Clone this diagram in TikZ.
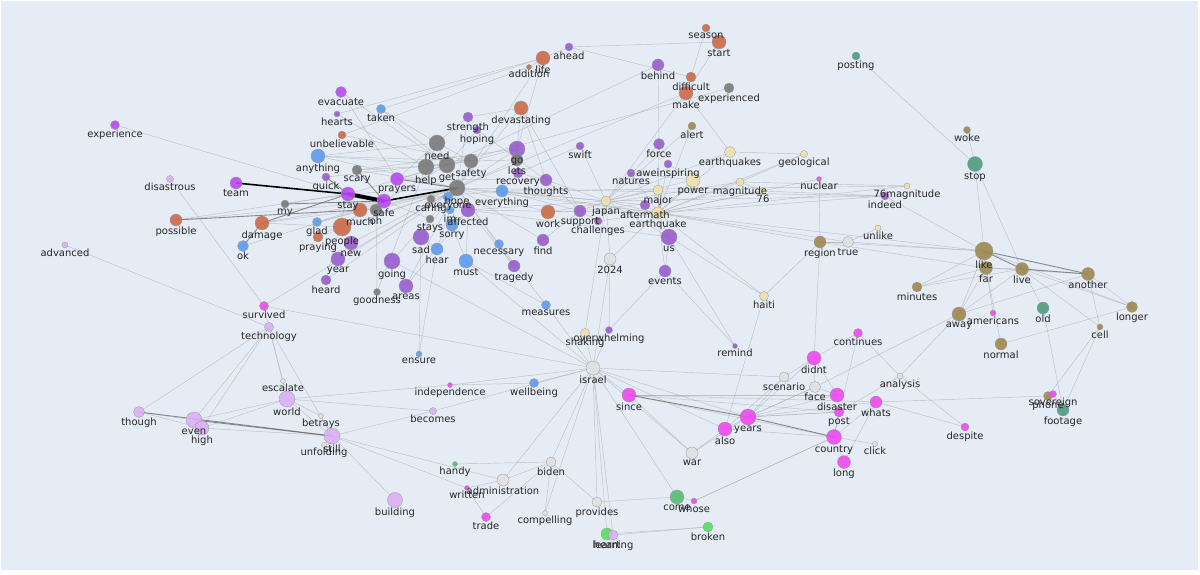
\documentclass[tikz,border=0pt]{standalone}
\usepackage{fontspec}
\setmainfont{DejaVu Sans}
\usetikzlibrary{backgrounds}
\definecolor{plotbg}{RGB}{229,236,246}
\definecolor{corange}{RGB}{205,106,72}
\definecolor{cgray}{RGB}{122,122,122}
\definecolor{cblue}{RGB}{92,156,240}
\definecolor{cpurple}{RGB}{152,92,206}
\definecolor{cviolet}{RGB}{186,72,245}
\definecolor{colive}{RGB}{160,135,76}
\definecolor{cteal}{RGB}{78,156,126}
\definecolor{cmagenta}{RGB}{240,72,240}
\definecolor{clilac}{RGB}{220,176,245}
\definecolor{clight}{RGB}{226,226,226}
\definecolor{cpale}{RGB}{240,226,172}
\definecolor{cgreen}{RGB}{84,222,96}
\definecolor{cmgreen}{RGB}{88,190,112}

% words: name/x/y/radius/colour (pixel grid, y down)
\def\wordlist{
experience/115/125/4.5/cviolet, disastrous/170/179/3.5/clilac, team/236/183/6/cviolet,
possible/176/220/6/corange, advanced/65/245/3/clilac, damage/262/223/7/corange,
ok/243/246/5.5/cblue, my/285/204/4/cgray, evacuate/341/92/5.5/cviolet,
hearts/337/114/3/cpurple, taken/381/109/4.5/cblue, unbelievable/342/135/4/corange,
anything/318/156/7/cblue, quick/326/177/4/cpurple, scary/357/170/5/cgray,
prayers/397/179/6.5/cviolet, stay/348/194/7/cviolet, safe/384/201/7/cviolet,
much/360/210/7/corange, oh/376/210/6/cgray, glad/317/222/4.5/cblue,
people/342/227/9/corange, praying/318/237/5/corange, new/351/243/7/cpurple,
year/338/259/7/cpurple, heard/326/280/5/cpurple, going/392/261/8/cpurple,
goodness/377/292/3.5/cgray, areas/406/286/7/cpurple, stays/430/219/4/cgray,
sad/421/237/8/cpurple, hear/437/249/6/cblue, sorry/452/225/6/cblue,
im/450/210/4/cblue, caring/431/199/4/cgray, everyone/448/197/5/cblue,
hope/457/188/8/cgray, need/437/143/8/cgray, help/426/167/8/cgray,
get/447/165/8/cgray, safety/471/161/7/cgray, strength/468/117/5/cpurple,
hoping/477/130/4/cpurple, devastating/521/108/7/corange, go/517/149/8/cpurple,
lets/517/160/6/cgray, recovery/518/173/5/cpurple, thoughts/546/180/6/cpurple,
swift/580/146/4/cpurple, everything/502/191/6/cblue, affected/468/210/7/cpurple,
work/548/212/7/corange, support/580/211/6/cpurple, challenges/598/221/4/cpurple,
find/543/240/6/cpurple, necessary/499/244/4.5/cblue, must/466/261/7/cblue,
tragedy/514/266/6/cpurple, measures/546/305/4.5/cblue, ensure/419/354/3/cblue,
ahead/569/47/4/cpurple, life/543/58/7/corange, addition/529/67/2.5/corange,
season/706/28/4/corange, start/719/42/7/corange, behind/658/65/6/cpurple,
difficult/691/77/5/corange, make/686/93/7/corange, experienced/729/88/5/cgray,
posting/856/56/4/cteal, alert/692/126/4/colive, force/659/144/5.5/cpurple,
earthquakes/730/152/5.5/cpale, geological/804/154/3.5/cpale, nuclear/819/179/2.5/cmagenta,
aweinspiring/668/164/4/cpurple, natures/631/173/4/cpurple, power/693/180/7/cpale,
magnitude/740/182/4/cpale, 76/763/191/3.5/cpale, major/658/190/5/cpale,
japan/606/201/5/cpale, aftermath/645/205/5/cpurple, earthquake/658/213/6/cpale,
76magnitude/907/186/3/cpale, indeed/885/196/4/cpurple, unlike/878/228/3/cpale,
region/820/242/6/colive, true/848/242/5.5/clight, us/669/237/8/cpurple,
events/665/271/6/cpurple, 2024/610/259/6/clight, haiti/764/296/4.5/cpale,
shaking/585/333/4.5/cpale, overwhelming/609/330/3.5/cpurple, remind/735/346/2.5/cpurple,
woke/967/130/3.5/colive, stop/975/164/7.5/cteal, like/984/251/9/colive,
far/986/268/6.5/colive, live/1022/269/6.5/colive, another/1088/274/6.5/colive,
minutes/917/287/5/colive, away/959/314/7/colive, americans/993/313/3/cmagenta,
old/1043/308/6/cteal, longer/1132/307/5.5/colive, cell/1100/327/3/colive,
normal/1001/344/6/colive, continues/858/333/4.5/cmagenta, didnt/814/358/7/cmagenta,
scenario/784/377/5/clight, face/815/387/5.5/clight, analysis/900/376/3/clight,
disaster/837/395/7/cmagenta, whats/876/402/6/cmagenta, post/839/412/5/cmagenta,
phone/1048/396/4.5/colive, sovereign/1053/394/3.5/cmagenta, footage/1063/410/6/cteal,
despite/965/427/4/cmagenta, since/629/395/7/cmagenta, years/748/417/8/cmagenta,
also/725/429/7/cmagenta, country/834/437/7.5/cmagenta, click/875/444/2.5/clight,
long/844/462/6.5/cmagenta, war/692/453/6/clight, israel/593/368/7/clight,
wellbeing/534/383/4.5/cblue, independence/450/385/2.5/cmagenta, becomes/433/411/3.5/clilac,
survived/264/306/4.5/cmagenta, technology/269/327/4.5/clilac, escalate/283/381/2.5/clight,
world/287/399/8/clilac, betrays/321/416/2.5/clight, still/332/436/8/clilac,
unfolding/324/445/2.5/clight, though/139/412/5.5/clilac, even/194/420/8/clilac,
high/202/428/7/clilac, building/395/500/7.5/clilac, handy/455/464/2.5/cmgreen,
biden/551/462/5/clight, administration/503/480/6/clight, written/467/488/2.5/cmagenta,
trade/486/517/4.5/cmagenta, compelling/545/513/2.5/clight, provides/597/502/5/clight,
come/677/497/7/cmgreen, whose/694/501/3/cmagenta, broken/708/527/5/cgreen,
heart/607/534/6/cgreen, learning/613/535/5/clilac}

\begin{document}
\begin{tikzpicture}[x=1pt,y=-1pt,
  dot/.style={circle,draw=black!40,line width=0.3pt,inner sep=0pt,fill opacity=0.9},
  lbl/.style={inner sep=0.5pt,anchor=north,font=\fontsize{10}{11}\selectfont,text=black!85},
  tie/.style={draw=gray!75,line width=0.45pt,opacity=0.55},
  tiemid/.style={draw=black!60,line width=0.9pt,opacity=0.75},
  tiethick/.style={draw=black,line width=1.6pt},
  tieheavy/.style={draw=black,line width=4pt}]
  \useasboundingbox (0,0) rectangle (1200,575);

  % words
  \foreach \n/\x/\y/\r/\c in \wordlist
    \node[dot,fill=\c,minimum size={2*\r pt}] (\n) at (\x,\y) {};

  \begin{pgfonlayer}{background}
    \fill[white] (0,0) rectangle (1200,575);
    \fill[plotbg] (1,1) rectangle (1198,570);
    % links
    \foreach \a/\b in {experience/stay, disastrous/survived, advanced/technology, possible/stay,
      possible/safe, damage/much, damage/safe, damage/people, ok/much, my/stay,
      evacuate/get, evacuate/prayers, hearts/help, hearts/life, taken/life, taken/need,
      taken/get, unbelievable/addition, unbelievable/safety, anything/need, anything/get,
      anything/hope, anything/safety, quick/safety, scary/get, scary/hope, scary/go,
      prayers/need, prayers/get, prayers/thoughts, stay/hope, stay/get, safe/get,
      safe/everything, much/hope, oh/hope, glad/hope, glad/safe, people/hope, praying/safe,
      praying/hope, new/hope, new/year, year/hope, heard/stay, heard/hope, going/hope,
      goodness/oh, goodness/help, areas/hope, areas/affected, stays/safe, sad/hope, sad/hear,
      hear/im, hear/ensure, sorry/hope, sorry/must, im/everyone, caring/everyone,
      must/affected, must/israel, must/measures, necessary/hope, necessary/measures,
      tragedy/hope, tragedy/affected, find/hope, find/support, need/help, need/get,
      need/safety, need/strength, help/get, get/safety, get/hope, safety/hope, safety/go,
      safety/lets, strength/hope, strength/devastating, hoping/get, hoping/thoughts,
      devastating/go, devastating/thoughts, devastating/support, devastating/hope,
      go/lets, go/hope, lets/recovery, lets/hope, recovery/thoughts, recovery/everything,
      thoughts/support, thoughts/japan, swift/recovery, swift/japan, everything/support,
      everything/japan, everything/earthquake, work/hope, work/support, support/challenges,
      support/japan, support/earthquake, challenges/earthquake, hope/japan, hope/earthquake,
      affected/earthquake, affected/us, affected/japan, hope/indeed, everything/76magnitude,
      support/76, work/magnitude, ahead/life, ahead/start, ahead/difficult, addition/life,
      life/hope, life/go, season/start, season/difficult, start/make, behind/force,
      behind/get, difficult/make, make/hope, make/earthquakes, make/japan, experienced/get,
      alert/japan, alert/earthquake, force/japan, force/earthquake, earthquakes/earthquake,
      earthquakes/geological, earthquakes/japan, geological/earthquake, geological/magnitude,
      nuclear/region, nuclear/earthquake, aweinspiring/earthquake, aweinspiring/power,
      natures/power, natures/earthquake, power/earthquake, power/japan, magnitude/earthquake,
      magnitude/76, magnitude/76magnitude, 76/earthquake, 76/indeed, 76magnitude/earthquake,
      indeed/japan, indeed/earthquake, major/earthquake, major/japan, aftermath/earthquake,
      aftermath/japan, japan/earthquake, japan/us, japan/2024, japan/shaking, earthquake/us,
      earthquake/events, earthquake/region, earthquake/2024, earthquake/true, us/events,
      us/remind, us/haiti, events/remind, events/overwhelming, 2024/israel, 2024/overwhelming,
      unlike/true, true/region, true/like, region/haiti, region/like, region/didnt, region/far,
      haiti/also, haiti/earthquake, shaking/israel, posting/stop, woke/stop, stop/like,
      stop/live, like/far, like/minutes, like/away, like/indeed, like/longer, like/earthquake,
      far/live, far/away, far/normal, far/another, live/away, live/longer, live/old, live/cell,
      another/longer, another/away, minutes/far, minutes/live, away/analysis, away/face,
      americans/like, old/footage, cell/phone, longer/normal, cell/another, continues/didnt,
      continues/country, continues/analysis, didnt/scenario, didnt/face, didnt/years,
      didnt/disaster, scenario/years, scenario/also, scenario/israel, face/years,
      face/disaster, analysis/despite, analysis/post, disaster/since, disaster/years,
      disaster/post, whats/years, whats/country, whats/since, whats/despite, post/years,
      post/country, phone/whats, sovereign/phone, sovereign/footage, footage/cell,
      since/israel, since/country, since/post, since/war, years/also, years/israel, years/war,
      years/post, years/face, also/israel, also/country, also/war, country/long,
      country/click, country/post, country/whose, long/whats, war/israel, israel/wellbeing,
      israel/independence, israel/becomes, israel/survived, israel/biden,
      israel/administration, israel/compelling, israel/provides, israel/heart,
      israel/overwhelming, israel/measures, wellbeing/independence, independence/world,
      becomes/world, becomes/still, survived/technology, survived/hope, technology/even,
      technology/high, technology/escalate, technology/world, technology/still,
      technology/though, escalate/world, world/even, world/high, world/still,
      betrays/still, betrays/world, unfolding/still, still/building, still/administration,
      still/high, even/high, though/even, though/high, handy/biden, biden/administration,
      biden/provides, administration/written, written/trade, written/still, trade/biden,
      compelling/biden, provides/come, come/whose, come/israel, whose/country, heart/broken,
      heart/learning, learning/broken, learning/israel, going/israel, sad/ensure}
      \draw[tie] (\a.center) -- (\b.center);
    \foreach \a/\b in {my/safe, possible/much, damage/stay, ok/damage, prayers/hope,
      like/live, like/another, live/another, years/country, since/years, though/still,
      even/still, quick/stay, scary/safe}
      \draw[tiemid] (\a.center) -- (\b.center);
    \draw[tiethick] (safe.center) -- (hope.center);
    \draw[tiethick] (team.center) -- (stay.center);
    \draw[tieheavy] (stay.center) -- (safe.center);
  \end{pgfonlayer}

  % labels on top
  \foreach \n/\x/\y/\r/\c in \wordlist
    \node[lbl] at (\n.south) {\n};
\end{tikzpicture}
\end{document}
